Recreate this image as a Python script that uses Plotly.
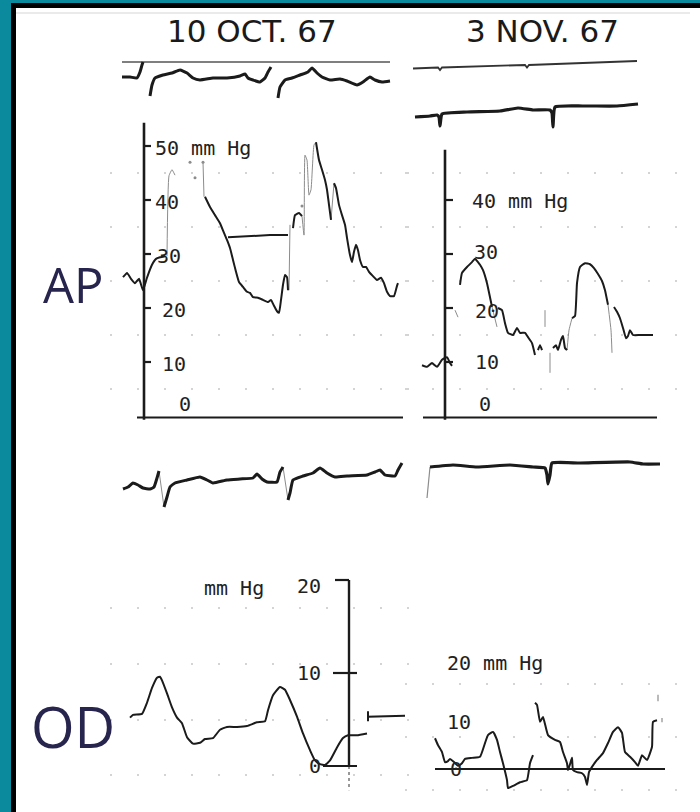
import plotly.graph_objects as go

W, H = 700, 812
N = None
INK = "#1b1b1b"
FAINT = "#8c8c8c"

# ------------------------------------------------------------------ data
# time in seconds, pressures in mm Hg, ECG in mV (approximate)
# --- 10 OCT. 67 : ECG above AP
ecg_tl_t = [0.02, 0.10, 0.17, 0.20, 0.22, 0.23, N,
            0.30, 0.32, 0.35, 0.43, 0.52, 0.60, 0.67, 0.73, 0.80, 0.93, 1.07, 1.20, 1.25, 1.28,
            1.33, 1.40, 1.45, 1.48, 1.51, N,
            1.58, 1.60, 1.65, 1.72, 1.80, 1.88, 1.92, 1.97, 2.02, 2.10, 2.20, 2.27, 2.37, 2.43,
            2.50, 2.55, 2.62, 2.70]
ecg_tl_v = [0.12, 0.12, 0.08, 0.32, 0.60, 0.72, N,
            -0.64, -0.20, 0.08, 0.20, 0.28, 0.40, 0.28, 0.08, 0.00, 0.08, 0.08, 0.16, 0.24, 0.08,
            0.00, -0.08, 0.08, 0.32, 0.52, N,
            -0.72, -0.28, 0.00, 0.08, 0.20, 0.32, 0.48, 0.28, 0.12, 0.00, 0.04, -0.04, -0.20, -0.08,
            0.12, 0.00, -0.08, -0.04]
ecg_tl_ref_t = [0.02, 2.70]
ecg_tl_ref_v = [0.72, 0.72]

# --- 3 NOV. 67 : ECG above AP
ecg_tr_ref_t = [0.01, 0.26, 0.28, 0.30, 1.13, 1.15, 1.17, 2.25]
ecg_tr_ref_v = [1.74, 1.78, 1.68, 1.78, 1.88, 1.78, 1.88, 2.04]
ecg_tr_t = [0.03, 0.18, 0.25, 0.27, 0.28, 0.30, 0.55, 0.88, 1.06, 1.21, 1.38, 1.40, 1.41, 1.43,
            1.71, 2.05, 2.26]
ecg_tr_v = [-0.20, -0.16, -0.12, -0.20, -0.56, -0.08, 0.00, 0.04, 0.16, 0.08, 0.08, -0.04, -0.60,
            0.20, 0.24, 0.24, 0.32]

# --- AP 10 OCT. 67
ap_l_t = [0.03, 0.07, 0.11, 0.15, 0.19, 0.23, 0.27, 0.32, 0.36, 0.40, 0.45, N,
          0.85, 0.90, 0.95, 1.00, 1.04, 1.07, 1.10, 1.13, 1.16, 1.19, 1.23, 1.27, 1.30, 1.33,
          1.38, 1.43, 1.48, 1.51, 1.54, 1.57, 1.59, 1.61, 1.63, 1.65, 1.67, 1.68, N,
          1.73, 1.75, 1.79, 1.82, N,
          1.96, 1.99, 2.02, 2.05, 2.07, 2.09, 2.11, N,
          2.14, 2.16, 2.19, 2.22, 2.25, 2.27, 2.30, 2.32, 2.34, 2.36, 2.38, 2.40, 2.43, 2.46,
          2.49, 2.53, 2.57, 2.61, 2.64, 2.67, 2.70, 2.74, 2.77, 2.78]
ap_l_p = [25.7, 26.5, 25.4, 24.6, 25.4, 23.3, 25.6, 28.0, 29.1, 29.4, 29.6, N,
          40.6, 38.7, 37.2, 35.7, 33.9, 32.6, 31.1, 28.9, 26.7, 24.8, 23.9, 23.0, 22.8, 22.0,
          21.9, 21.5, 21.1, 21.5, 20.4, 19.4, 19.1, 21.5, 24.3, 26.1, 25.7, 23.3, N,
          34.8, 37.2, 37.6, 37.0, N,
          50.7, 47.4, 45.6, 43.7, 41.9, 39.1, 36.3, N,
          43.1, 42.2, 39.1, 37.2, 35.4, 33.0, 29.8, 28.5, 30.4, 31.7, 30.7, 28.9, 27.6, 27.6,
          26.7, 25.9, 25.2, 25.6, 24.6, 23.0, 22.2, 22.2, 24.1, 24.6]
ap_l_faint_t = [0.47, 0.49, 0.52, 0.55, N, 0.83, 0.84, N, 1.69, 1.70, N,
                1.82, 1.84, 1.85, 1.87, 1.89, 1.91, 1.94, 1.96, N, 2.11, 2.14]
ap_l_faint_p = [29.6, 44.5, 45.6, 44.6, N, 47.0, 40.6, N, 23.3, 35.4, N,
                37.0, 33.5, 48.3, 47.4, 40.9, 41.9, 50.2, 50.7, N, 36.3, 43.1]
ap_l_dots_t = [0.70, 0.75, 0.83, 1.82]
ap_l_dots_p = [47.0, 44.1, 47.0, 38.9]
ap_l_mean_t = [1.08, 1.30, 1.50, 1.68]
ap_l_mean_p = [33.1, 33.3, 33.5, 33.5]

# --- AP 3 NOV. 67
ap_r_t = [0.10, 0.15, 0.20, 0.25, 0.30, 0.35, 0.38, 0.40, N,
          0.48, 0.50, 0.55, 0.60, 0.63, 0.66, 0.68, 0.71, 0.75, 0.78, 0.80, N,
          0.86, 0.90, 0.93, 0.96, 1.01, 1.05, 1.08, 1.13, 1.16, 1.20, 1.23, N,
          1.26, 1.28, 1.30, N,
          1.41, 1.44, 1.46, 1.49, 1.51, 1.53, 1.55, N,
          1.60, 1.63, 1.65, 1.68, 1.73, 1.78, 1.82, 1.86, 1.90, 1.93, 1.96, N,
          2.02, 2.05, 2.08, 2.11, 2.14, 2.16, 2.18, 2.21, 2.28, 2.41]
ap_r_p = [9.4, 9.1, 9.8, 9.1, 10.4, 10.9, 9.8, 9.3, N,
          24.3, 26.5, 27.6, 28.5, 29.1, 28.5, 28.0, 27.0, 24.6, 22.0, 20.2, N,
          20.0, 19.6, 17.2, 15.4, 15.0, 16.3, 15.4, 15.4, 14.6, 13.5, 11.3, N,
          12.2, 13.1, 12.2, N,
          12.6, 13.1, 12.2, 14.1, 14.8, 12.6, 12.2, N,
          18.1, 18.5, 24.6, 27.6, 28.3, 28.1, 27.4, 26.3, 25.0, 23.3, 20.6, N,
          20.2, 19.3, 18.1, 16.3, 14.4, 14.8, 15.9, 15.0, 15.0, 15.0]
ap_r_faint_t = [0.43, 0.46, N, 0.80, 0.85, N, 1.33, 1.33, N, 1.38, 1.38, N,
                1.55, 1.57, 1.60, N, 1.96, 1.99, 2.00]
ap_r_faint_p = [19.6, 18.3, N, 20.2, 16.5, N, 19.6, 16.5, N, 11.7, 8.0, N,
                12.2, 15.9, 18.1, N, 20.6, 15.9, 11.7]

# --- ECG below AP
ecg_bl_t = [0.03, 0.08, 0.13, 0.18, 0.23, 0.30, 0.34, 0.37, 0.39, N,
            0.44, 0.47, 0.50, 0.55, 0.67, 0.80, 0.87, 0.93, 1.07, 1.20, 1.33, 1.37, 1.42, 1.47,
            1.57, 1.60, 1.63, N,
            1.68, 1.70, 1.73, 1.83, 1.93, 2.00, 2.07, 2.15, 2.27, 2.47, 2.55, 2.60, 2.65, 2.75,
            2.78, 2.82]
ecg_bl_v = [-0.36, -0.28, -0.12, -0.20, -0.32, -0.36, -0.28, 0.08, 0.36, N,
            -1.08, -0.68, -0.28, -0.12, 0.00, 0.12, 0.00, -0.12, 0.00, 0.04, 0.08, 0.24, 0.04, -0.08,
            -0.08, 0.32, 0.52, N,
            -0.80, -0.52, 0.00, 0.16, 0.28, 0.48, 0.28, 0.12, 0.16, 0.20, 0.32, 0.40, 0.20, 0.16,
            0.40, 0.68]
ecg_bl_faint_t = [0.39, 0.44, N, 1.63, 1.68]
ecg_bl_faint_v = [0.36, -1.08, N, 0.52, -0.80]

ecg_br_t = [0.18, 0.41, 0.65, 0.98, 1.21, 1.33, 1.35, 1.36, 1.38, 1.40, 1.68, 2.18, 2.31, 2.48]
ecg_br_v = [-0.08, 0.00, -0.08, 0.00, -0.08, -0.12, -0.40, -0.76, -0.40, 0.08, 0.08, 0.12, 0.04, 0.04]
ecg_br_faint_t = [0.15, 0.18]
ecg_br_faint_v = [-1.32, -0.08]

# --- OD 10 OCT. 67
od_l_t = [0.10, 0.13, 0.22, 0.27, 0.32, 0.37, 0.40, 0.42, 0.47, 0.52, 0.57, 0.62, 0.67, 0.73,
          0.80, 0.85, 0.93, 1.00, 1.07, 1.17, 1.27, 1.37, 1.45, 1.48, 1.53, 1.60, 1.65, 1.70,
          1.77, 1.83, 1.90, 1.95, 2.00, 2.05, 2.10, 2.17, 2.23, 2.28, 2.37, 2.47]
od_l_p = [5.2, 5.5, 5.6, 6.8, 8.4, 9.5, 9.6, 9.2, 7.8, 6.3, 5.2, 4.6, 3.1, 2.4,
          2.5, 2.9, 3.0, 3.9, 4.2, 4.2, 4.3, 4.7, 4.8, 6.0, 7.6, 8.5, 8.2, 7.1,
          5.3, 3.5, 1.7, 0.6, 0.2, 0.1, 0.6, 2.0, 3.0, 3.3, 3.3, 3.5]
od_l_ref_t = [2.48, 2.48, 2.48, 2.85]
od_l_ref_p = [5.9, 4.8, 5.3, 5.4]

# --- OD 3 NOV. 67
od_r_t = [0.23, 0.26, 0.30, 0.33, 0.36, 0.38, 0.42, 0.46, 0.50, 0.53, 0.60, 0.68, 0.73, 0.76,
          0.81, 0.85, 0.88, 0.91, 0.95, 0.96, 1.01, 1.08, 1.15, 1.18, 1.21, N,
          1.23, 1.25, 1.28, 1.31, 1.36, 1.43, 1.48, 1.51, 1.55, 1.56, 1.58, 1.60, 1.61, 1.65,
          1.70, 1.73, 1.75, 1.77, 1.80, 1.85, 1.91, 1.96, 2.01, 2.06, 2.10, 2.13, 2.18, 2.23,
          2.26, 2.30, 2.35, 2.40, 2.41, 2.45]
od_r_p = [5.8, 4.5, 3.2, 1.3, 1.5, 1.9, 1.3, 0.6, 1.1, 1.9, 2.1, 2.3, 4.9, 6.4,
          7.0, 5.5, 3.2, 1.1, -2.1, -3.6, -3.2, -2.5, -2.1, 1.1, 2.6, N,
          12.5, 12.1, 8.9, 9.8, 6.4, 5.5, 5.1, 3.2, 1.1, -0.2, 0.9, 2.1, -0.2, -0.6,
          -0.8, -1.5, -3.0, -0.6, 0.4, 1.7, 3.0, 4.9, 7.0, 7.9, 6.8, 3.2, 2.3, 1.3,
          0.6, 2.6, 1.7, 4.2, 8.9, 9.2]
od_r_faint_t = [2.46, 2.46, N, 2.50, 2.50]
od_r_faint_p = [14.0, 12.8, N, 9.6, 8.8]
od_r_ref_t = [0.23, 2.53]
od_r_ref_p = [0.0, 0.0]

# axis ticks
ap_l_ticks = [0, 10, 20, 30, 40, 50]
ap_r_ticks = [0, 10, 20, 30, 40]
od_l_ticks = [0, 10, 20]
od_r_ticks = [0, 10, 20]

# ------------------------------------------------------------------ layout helpers
COLS = {"L": (120, 110, 415), "R": (412, 405, 690)}  # time origin px, domain px
PX_PER_S = 100.0
# panel: column, top px, bottom px, zero px, px per unit
PANELS = {
    1: ("L", 45, 112, 80, 25.0),
    2: ("R", 45, 135, 112, 25.0),
    3: ("L", 115, 432, 416, 5.4),
    4: ("R", 115, 432, 416, 5.4),
    5: ("L", 445, 520, 480, 25.0),
    6: ("R", 440, 515, 465, 25.0),
    7: ("L", 560, 800, 766, 9.3),
    8: ("R", 640, 800, 769, 5.3),
}
GRID_ROWS = {3: [5, 15, 25, 35, 45], 4: [5, 15, 25, 35, 45], 7: [-1, 5, 11, 17], 8: [-4, 6, 16]}


def names(i):
    return ("x" if i == 1 else f"x{i}", "y" if i == 1 else f"y{i}")


fig = go.Figure()
lay = {}
for i, (col, ytop, ybot, yzero, ypx) in PANELS.items():
    org, x0, x1 = COLS[col]
    xn, yn = names(i)
    xa = dict(domain=[x0 / W, x1 / W], range=[(x0 - org) / PX_PER_S, (x1 - org) / PX_PER_S],
              visible=False, fixedrange=True, anchor=yn)
    ya = dict(domain=[1 - ybot / H, 1 - ytop / H], range=[(yzero - ybot) / ypx, (yzero - ytop) / ypx],
              fixedrange=True, showticklabels=False, ticks="", showline=False, zeroline=False,
              anchor=xn, showgrid=False)
    if i in GRID_ROWS:
        ya.update(showgrid=True, tickvals=GRID_ROWS[i], gridcolor="#d4d4d4", gridwidth=1.6,
                  griddash="2px,25px")
    lay["xaxis" if i == 1 else f"xaxis{i}"] = xa
    lay["yaxis" if i == 1 else f"yaxis{i}"] = ya


def line(i, t, v, color=INK, width=2.0, dash="solid"):
    xn, yn = names(i)
    fig.add_trace(go.Scatter(x=t, y=v, xaxis=xn, yaxis=yn, mode="lines",
                             line=dict(color=color, width=width, dash=dash, shape="spline", smoothing=0.4),
                             hoverinfo="skip", showlegend=False, connectgaps=False))


def straight(i, t, v, color=INK, width=2.0, dash="solid"):
    xn, yn = names(i)
    fig.add_trace(go.Scatter(x=t, y=v, xaxis=xn, yaxis=yn, mode="lines",
                             line=dict(color=color, width=width, dash=dash),
                             hoverinfo="skip", showlegend=False))


def dots(i, t, v, color=FAINT, size=3):
    xn, yn = names(i)
    fig.add_trace(go.Scatter(x=t, y=v, xaxis=xn, yaxis=yn, mode="markers",
                             marker=dict(color=color, size=size), hoverinfo="skip", showlegend=False))


def ticks(i, vals, t0, t1, width=2.2):
    xs, ys = [], []
    for v in vals:
        xs += [t0, t1, N]
        ys += [v, v, N]
    straight(i, xs, ys, width=width)


ANN = []
MONO = "DejaVu Sans Mono"


def label(i, t, v, text, xanchor="left", yanchor="middle", size=20, yshift=0, font=MONO):
    xn, yn = names(i)
    ANN.append(dict(x=t, y=v, xref=xn, yref=yn, text=text, showarrow=False, xanchor=xanchor,
                    yanchor=yanchor, yshift=yshift, font=dict(family=font, size=size, color="#222")))


# ------------------------------------------------------------------ traces
# ECG top
straight(1, ecg_tl_ref_t, ecg_tl_ref_v, color="#555", width=1.3)
line(1, ecg_tl_t, ecg_tl_v, width=3.0)
straight(2, ecg_tr_ref_t, ecg_tr_ref_v, color="#333", width=1.8)
line(2, ecg_tr_t, ecg_tr_v, width=3.2)

# AP left axes
straight(3, [0.24, 0.24], [-0.7, 54.3], width=2.6)
ticks(3, ap_l_ticks[1:], 0.24, 0.31)
straight(3, [0.17, 2.83], [-0.3, -0.3], width=2.0)
line(3, ap_l_faint_t, ap_l_faint_p, color=FAINT, width=1.0)
dots(3, ap_l_dots_t, ap_l_dots_p)
line(3, ap_l_t, ap_l_p, width=2.0)
straight(3, ap_l_mean_t, ap_l_mean_p, width=2.0)
label(3, 0.33, 50, "50 mm Hg", yshift=-2)
label(3, 0.33, 40, "40", yshift=-2)
label(3, 0.35, 30, "30", yshift=-2)
label(3, 0.40, 20, "20", yshift=-2)
label(3, 0.40, 10, "10", yshift=-2)
label(3, 0.57, 0, "0", yanchor="bottom", yshift=-2)

# AP right axes
straight(4, [0.33, 0.33], [-0.7, 49.3], width=2.6)
ticks(4, ap_r_ticks[1:], 0.33, 0.41)
straight(4, [0.11, 2.45], [-0.3, -0.3], width=2.0)
line(4, ap_r_faint_t, ap_r_faint_p, color=FAINT, width=1.0)
line(4, ap_r_t, ap_r_p, width=2.0)
label(4, 0.58, 40, "40 mm Hg", yshift=-1)
label(4, 0.60, 30, "30", yshift=2)
label(4, 0.61, 20, "20", yshift=-3)
label(4, 0.61, 10, "10")
label(4, 0.65, 0, "0", yanchor="bottom", yshift=-2)

# ECG bottom
line(5, ecg_bl_faint_t, ecg_bl_faint_v, color=FAINT, width=1.0)
line(5, ecg_bl_t, ecg_bl_v, width=3.0)
line(6, ecg_br_faint_t, ecg_br_faint_v, color=FAINT, width=1.2)
line(6, ecg_br_t, ecg_br_v, width=3.2)

# OD left
straight(7, [2.29, 2.29], [0, 20], width=2.4)
straight(7, [2.29, 2.29], [0, -2.6], width=1.5, dash="dot", color="#777")
straight(7, [2.15, 2.29, N, 2.13, 2.37, N, 2.03, 2.37], [20, 20, N, 10, 10, N, 0, 0], width=2.2)
line(7, od_l_t, od_l_p, width=2.0)
straight(7, od_l_ref_t, od_l_ref_p, width=2.0)
label(7, 2.03, 20, "20", xanchor="right", yshift=-6)
label(7, 0.82, 20, "mm Hg", yshift=-8)
label(7, 2.03, 10, "10", xanchor="right")
label(7, 2.03, 0, "0", xanchor="right")

# OD right
straight(8, od_r_ref_t, od_r_ref_p, width=2.0)
line(8, od_r_faint_t, od_r_faint_p, color=FAINT, width=1.2)
line(8, od_r_t, od_r_p, width=2.0)
label(8, 0.33, 20, "20 mm Hg")
label(8, 0.33, 10, "10", yshift=-6)
label(8, 0.36, 0, "0")

# ------------------------------------------------------------------ page
def px(x):
    return x / W


def py(y):
    return 1 - y / H


shapes = [
    dict(type="rect", xref="paper", yref="paper", x0=px(11), x1=1.0, y0=0, y1=py(3),
         fillcolor="#000", line_width=0, layer="below"),
    dict(type="rect", xref="paper", yref="paper", x0=px(16), x1=1.0, y0=0, y1=py(8),
         fillcolor="#ffffff", line_width=0, layer="below"),
    dict(type="line", xref="paper", yref="paper", x0=px(16), x1=px(690), y0=py(13), y1=py(13),
         line=dict(color="#d6d6d6", width=1.2), layer="below"),
]

ANN += [
    dict(x=px(252), y=py(31), xref="paper", yref="paper", text="10 OCT. 67", showarrow=False,
         xanchor="center", yanchor="middle", font=dict(family="DejaVu Sans", size=31, color="#1a1a1a")),
    dict(x=px(542), y=py(31), xref="paper", yref="paper", text="3 NOV. 67", showarrow=False,
         xanchor="center", yanchor="middle", font=dict(family="DejaVu Sans", size=31, color="#1a1a1a")),
    dict(x=px(41), y=py(284), xref="paper", yref="paper", text="AP", showarrow=False,
         xanchor="left", yanchor="middle", font=dict(family="Open Sans", size=49, color="#27244d")),
    dict(x=px(29), y=py(726), xref="paper", yref="paper", text="OD", showarrow=False,
         xanchor="left", yanchor="middle", font=dict(family="Open Sans", size=56, color="#27244d")),
]

fig.update_layout(width=W, height=H, margin=dict(l=0, r=0, t=0, b=0),
                  paper_bgcolor="#0b8a9d", plot_bgcolor="rgba(0,0,0,0)",
                  shapes=shapes, annotations=ANN, showlegend=False, **lay)

fig.write_html("out.html", config={"displayModeBar": False})
